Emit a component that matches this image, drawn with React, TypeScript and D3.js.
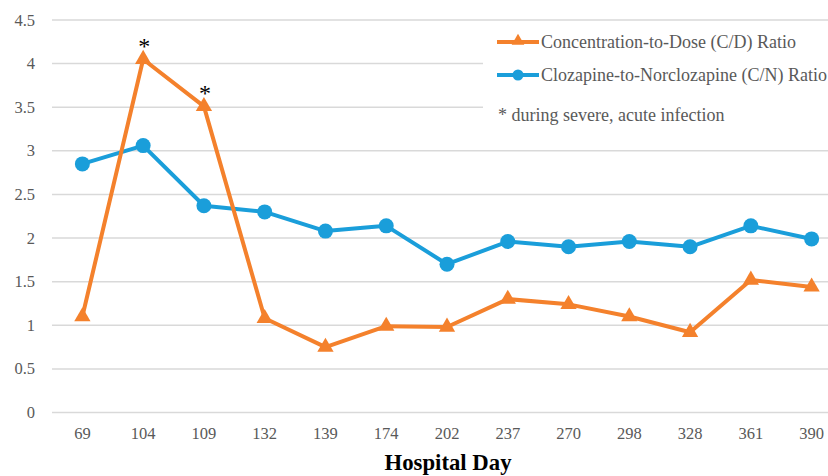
import { useEffect, useRef } from 'react';
import * as d3 from 'd3';

const days = ['69', '104', '109', '132', '139', '174', '202', '237', '270', '298', '328', '361', '390'];
const cdRatio = [1.1, 4.05, 3.51, 1.08, 0.75, 0.99, 0.98, 1.3, 1.24, 1.1, 0.92, 1.52, 1.44];
const cnRatio = [2.85, 3.06, 2.37, 2.3, 2.08, 2.14, 1.7, 1.96, 1.9, 1.96, 1.9, 2.14, 1.99];
const yTicks = [0, 0.5, 1, 1.5, 2, 2.5, 3, 3.5, 4, 4.5];
const infectionDays = ['104', '109'];

const ORANGE = '#F4812C';
const BLUE = '#1A9EDA';

const App = () => {
  const svgRef = useRef(null);

  useEffect(() => {
    const svg = d3.select(svgRef.current);
    svg.selectAll('*').remove();

    const width = 828;
    const height = 476;
    const font = '"Liberation Serif", "Times New Roman", serif';

    const x = d3.scaleBand().domain(days).range([52, 842]);
    const cx = (d: string) => x(d)! + x.bandwidth() / 2;
    const y = d3.scaleLinear().domain([0, 4.5]).range([412.5, 20]);

    svg.append('rect').attr('width', width).attr('height', height).attr('fill', 'white');

    // сетка
    svg
      .append('g')
      .selectAll('line')
      .data(yTicks)
      .enter()
      .append('line')
      .attr('x1', 52)
      .attr('x2', width)
      .attr('y1', (d) => y(d))
      .attr('y2', (d) => y(d))
      .attr('stroke', '#D9D9D9')
      .attr('stroke-width', 1.5);

    // подписи оси Y
    svg
      .append('g')
      .selectAll('text')
      .data(yTicks)
      .enter()
      .append('text')
      .attr('x', 35)
      .attr('y', (d) => y(d) + 5.5)
      .attr('text-anchor', 'end')
      .attr('font-family', font)
      .attr('font-size', 16.5)
      .attr('fill', '#595959')
      .text((d) => String(d));

    // подписи оси X
    svg
      .append('g')
      .selectAll('text')
      .data(days)
      .enter()
      .append('text')
      .attr('x', (d) => cx(d))
      .attr('y', 438.5)
      .attr('text-anchor', 'middle')
      .attr('font-family', font)
      .attr('font-size', 16.5)
      .attr('fill', '#595959')
      .text((d) => d);

    svg
      .append('text')
      .attr('x', 448)
      .attr('y', 470)
      .attr('text-anchor', 'middle')
      .attr('font-family', font)
      .attr('font-size', 24)
      .attr('font-weight', 'bold')
      .attr('fill', '#000')
      .attr('textLength', 127)
      .attr('lengthAdjust', 'spacingAndGlyphs')
      .text('Hospital Day');

    const line = d3
      .line<number>()
      .x((_, i) => cx(days[i]))
      .y((d) => y(d));

    const tri = d3.symbol().type(d3.symbolTriangle).size(115);

    // C/N
    svg
      .append('path')
      .attr('d', line(cnRatio)!)
      .attr('fill', 'none')
      .attr('stroke', BLUE)
      .attr('stroke-width', 4)
      .attr('stroke-linejoin', 'round');
    svg
      .append('g')
      .selectAll('circle')
      .data(cnRatio)
      .enter()
      .append('circle')
      .attr('cx', (_, i) => cx(days[i]))
      .attr('cy', (d) => y(d))
      .attr('r', 7.5)
      .attr('fill', BLUE);

    // C/D
    svg
      .append('path')
      .attr('d', line(cdRatio)!)
      .attr('fill', 'none')
      .attr('stroke', ORANGE)
      .attr('stroke-width', 4)
      .attr('stroke-linejoin', 'round');
    svg
      .append('g')
      .selectAll('path')
      .data(cdRatio)
      .enter()
      .append('path')
      .attr('d', tri()!)
      .attr('transform', (d, i) => `translate(${cx(days[i])},${y(d)})`)
      .attr('fill', ORANGE);

    // звёздочки
    svg
      .append('g')
      .selectAll('text')
      .data(infectionDays)
      .enter()
      .append('text')
      .attr('x', (d) => cx(d) + 1)
      .attr('y', (d) => y(cdRatio[days.indexOf(d)]) - 5)
      .attr('text-anchor', 'middle')
      .attr('font-family', font)
      .attr('font-size', 24)
      .attr('fill', '#000')
      .text('*');

    // легенда
    const lg = svg.append('g');
    lg.append('rect').attr('x', 483).attr('y', 24).attr('width', 345).attr('height', 110).attr('fill', 'white');
    const items = [
      { label: 'Concentration-to-Dose (C/D) Ratio', color: ORANGE, shape: 'tri', yy: 42 },
      { label: 'Clozapine-to-Norclozapine (C/N) Ratio', color: BLUE, shape: 'circle', yy: 75 },
    ];
    items.forEach((it) => {
      lg.append('line')
        .attr('x1', 497)
        .attr('x2', 539)
        .attr('y1', it.yy)
        .attr('y2', it.yy)
        .attr('stroke', it.color)
        .attr('stroke-width', 4);
      if (it.shape === 'tri') {
        lg.append('path')
          .attr('d', d3.symbol().type(d3.symbolTriangle).size(70)()!)
          .attr('transform', `translate(518,${it.yy - 1})`)
          .attr('fill', it.color);
      } else {
        lg.append('circle').attr('cx', 518).attr('cy', it.yy).attr('r', 5.5).attr('fill', it.color);
      }
      lg.append('text')
        .attr('x', 541)
        .attr('y', it.yy + 6)
        .attr('font-family', font)
        .attr('font-size', 18)
        .attr('fill', '#595959')
        .text(it.label);
    });
    lg.append('text')
      .attr('x', 498)
      .attr('y', 121)
      .attr('font-family', font)
      .attr('font-size', 18)
      .attr('fill', '#595959')
      .text('* during severe, acute infection');
  }, []);

  return (
    <svg
      ref={svgRef}
      width={828}
      height={476}
      style={{ position: 'absolute', left: 0, top: 0, display: 'block' }}
    ></svg>
  );
};

export default App;
